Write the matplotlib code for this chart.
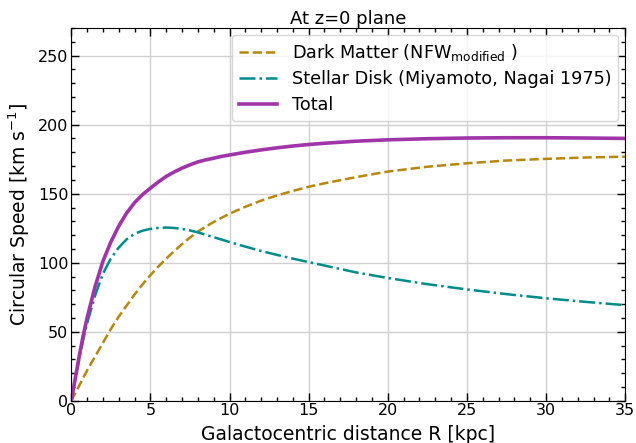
import matplotlib
matplotlib.use("Agg")
import matplotlib.pyplot as plt
from matplotlib.ticker import MultipleLocator

# radius [kpc] and circular speeds [km/s]
R = [0, 0.25, 0.5, 0.75, 1, 1.5, 2, 2.5, 3, 3.5, 4, 4.5, 5, 5.5, 6, 6.5, 7, 7.5, 8, 8.5, 9, 9.5, 10,
     11, 12, 13, 14, 15, 16, 18, 20, 22.5, 25, 27.5, 30, 32.5, 35]
v_dm = [0, 5.5, 11, 16.5, 22, 32, 42, 52, 61, 69, 77, 84.3, 91, 97.2, 103, 108.4, 113.5, 118.2, 122.5,
        126.2, 129.5, 132.6, 135.5, 140.5, 145, 148.7, 152, 155, 157.5, 162, 166, 169.5, 172, 174,
        175.2, 176.2, 176.8]
v_disk = [0, 15, 30, 44, 56, 76, 92, 103, 111, 117, 121, 123.2, 124.5, 125.2, 125.5, 125.2, 124.5,
          123.4, 122, 120.3, 118.5, 116.8, 115, 111.7, 108.5, 105.7, 103, 100.5, 98, 93, 89, 84.5,
          80.7, 77.3, 74.3, 71.7, 69.3]
v_tot = [0, 16, 32, 47, 60, 82.5, 101, 115, 126.5, 136, 143.5, 149.3, 154, 158.5, 162.5, 165.7, 168.5,
         170.9, 173, 174.5, 175.7, 177, 178, 180, 181.7, 183.2, 184.5, 185.6, 186.5, 188, 189, 189.8,
         190.3, 190.5, 190.5, 190.3, 190]

fig = plt.figure(figsize=(6.36, 4.43), dpi=100)
ax = fig.add_axes([0.112, 0.095, 0.871, 0.842])

ax.plot(R, v_dm, '--', color='#b8860b', lw=1.8, label=r'Dark Matter (NFW$_{\rm modified}$ )')
ax.plot(R, v_disk, '-.', color='#008b8b', lw=1.8, label='Stellar Disk (Miyamoto, Nagai 1975)')
ax.plot(R, v_tot, '-', color='#a035aa', lw=2.6, label='Total')

ax.set_xlim(0, 35)
ax.set_ylim(0, 270)
ax.xaxis.set_major_locator(MultipleLocator(5))
ax.xaxis.set_minor_locator(MultipleLocator(1))
ax.yaxis.set_major_locator(MultipleLocator(50))
ax.yaxis.set_minor_locator(MultipleLocator(10))
ax.tick_params(which='both', direction='in', top=True, right=True, labelsize=11.5)
ax.tick_params(axis='x', which='both', pad=1.5)
ax.tick_params(axis='y', which='both', pad=2)
ax.tick_params(which='major', length=6, width=1)
ax.tick_params(which='minor', length=3, width=1)
ax.grid(which='major', color='#d0d0d0', lw=1)

ax.set_xlabel('Galactocentric distance R [kpc]', fontsize=13.5, labelpad=5)
ax.set_ylabel(r'Circular Speed [km s$^{-1}$]', fontsize=13.5, labelpad=4)
ax.set_title('At z=0 plane', fontsize=13, pad=2)
ax.legend(loc='upper right', fontsize=12.7, handlelength=2.2, borderaxespad=0.4,
          labelspacing=0.42)

fig.savefig('out.png', dpi=100)
